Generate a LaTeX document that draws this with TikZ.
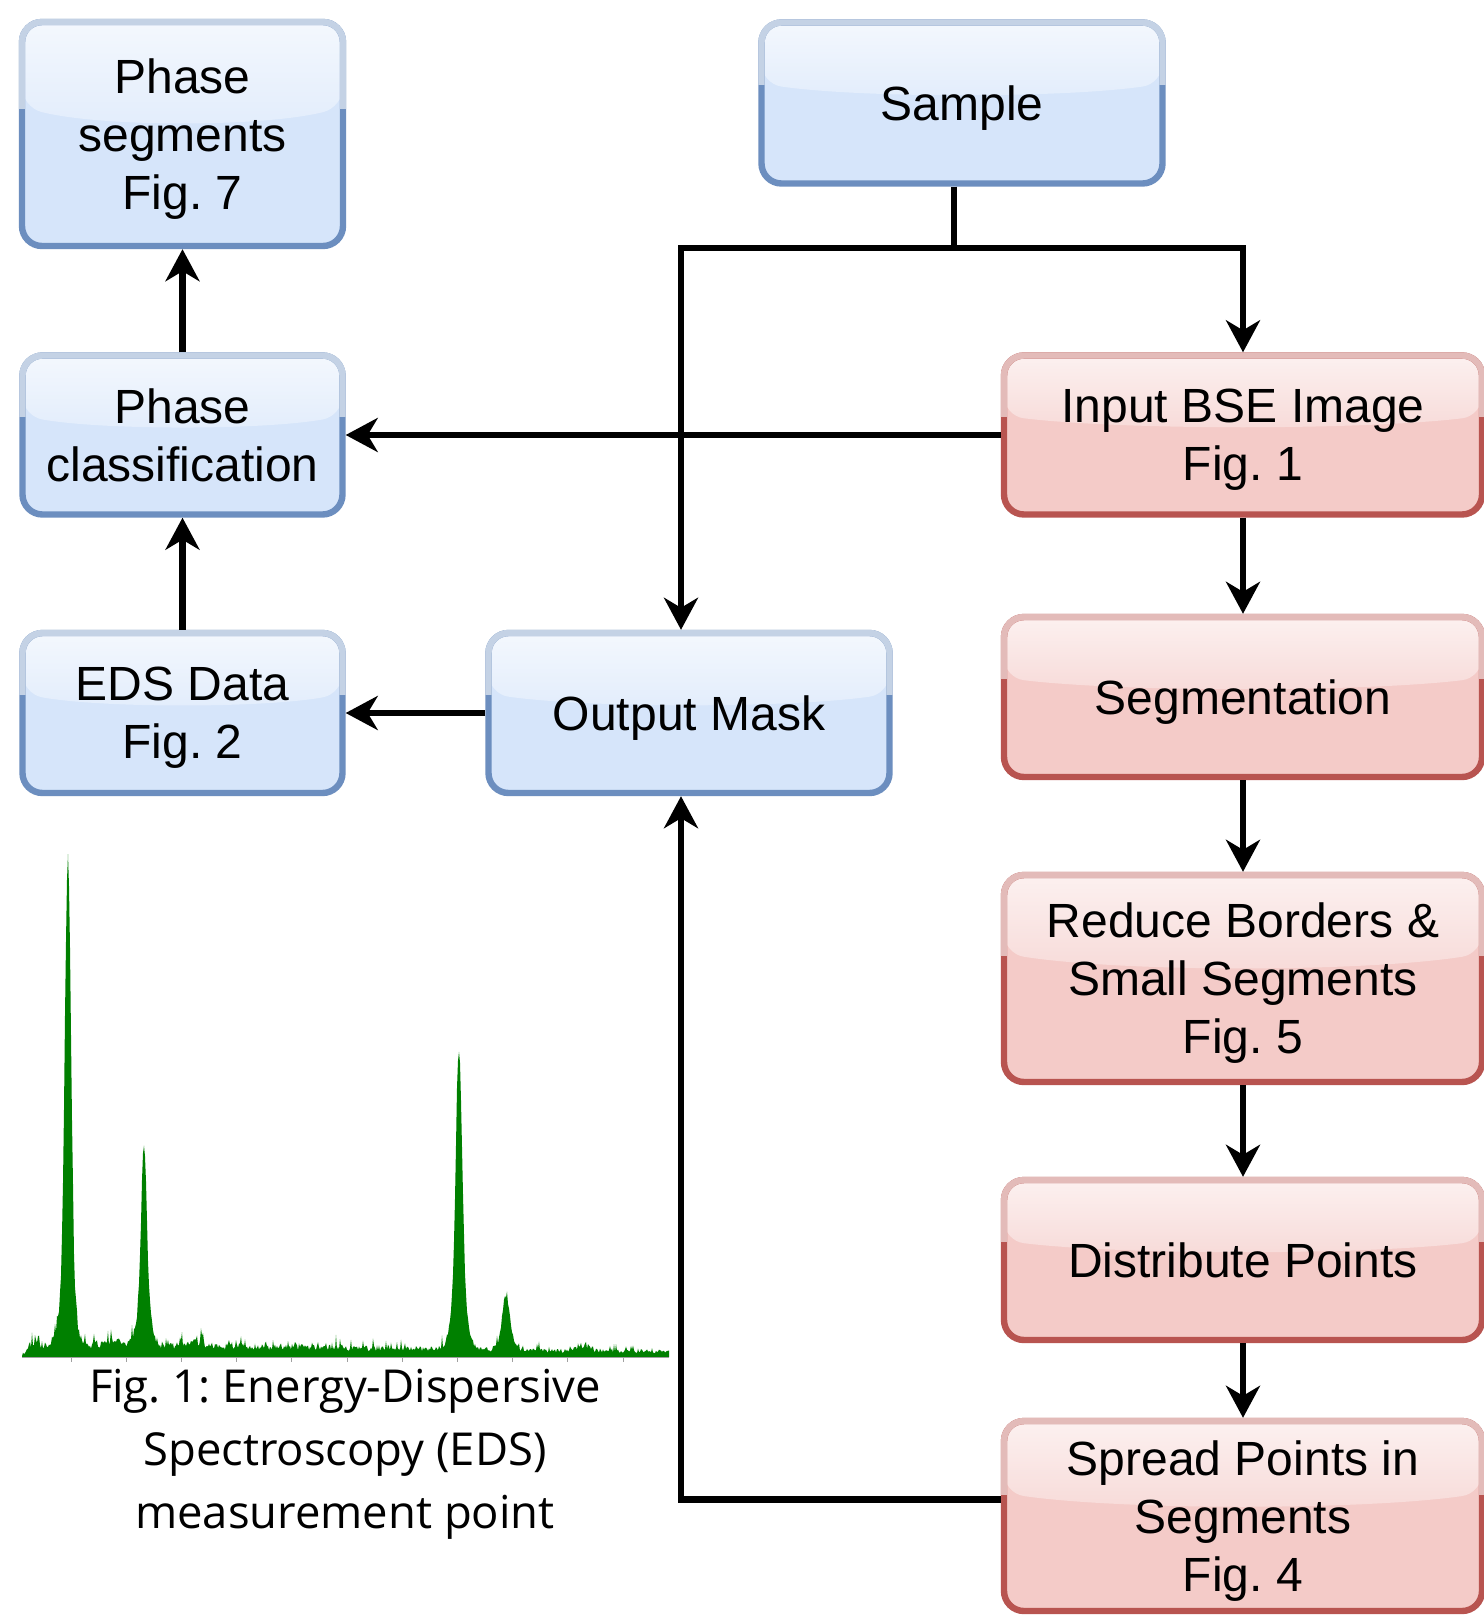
\documentclass[tikz,border=0pt]{standalone}
\usepackage{fontspec}
\setmainfont{Liberation Sans}
\newfontfamily\capfont{Open Sans}
\usetikzlibrary{arrows.meta,calc}
\frenchspacing
\definecolor{bfill}{HTML}{D6E5FA}
\definecolor{bline}{HTML}{6C8EBF}
\definecolor{rfill}{HTML}{F4CBC8}
\definecolor{rline}{HTML}{B85450}
\definecolor{specgreen}{RGB}{0,128,0}
\definecolor{axisgray}{RGB}{160,160,160}
% light overlay on the upper part of a box border (gloss)
\newcommand\glossb[2]{%
  \begin{scope}
    \clip ($(#1.north west)+(-2pt,2pt)$) rectangle ($(#1.north east)!0.39!(#1.south east)+(2pt,0)$);
    \draw[line width=3.2pt, draw=#2, rounded corners=10pt]
      ($(#1.north west)+(1.6pt,-1.6pt)$) rectangle ($(#1.south east)+(-1.6pt,1.6pt)$);
  \end{scope}}
\begin{document}
\begin{tikzpicture}[x=0.5pt,y=-0.5pt,
  basebox/.style={rounded corners=10pt, line width=3.2pt, inner sep=0pt, align=center,
    font=\fontsize{24}{29}\selectfont},
  gloss/.style={path picture={
      \coordinate (gNW) at (path picture bounding box.north west);
      \coordinate (gNE) at (path picture bounding box.north east);
      \coordinate (gSW) at (path picture bounding box.south west);
      \coordinate (gSE) at (path picture bounding box.south east);
      \coordinate (gPR) at ($(gNE)!0.38!(gSE)$);
      \coordinate (gPL) at ($(gNW)!0.38!(gSW)$);
      \coordinate (gQR) at ($(gNE)!0.47!(gSE)$);
      \coordinate (gQL) at ($(gNW)!0.47!(gSW)$);
      \shade[top color=white!72!#1, bottom color=white!30!#1]
        (gNW) -- (gNE) -- (gPR) .. controls ($(gQR)!0.25!(gQL)$) and ($(gQR)!0.75!(gQL)$) .. (gPL) -- cycle;}},
  bluebox/.style={basebox, draw=bline, fill=bfill, gloss=bfill},
  redbox/.style={basebox, draw=rline, fill=rfill, gloss=rfill},
  sz/.style 2 args={minimum width=#1*0.5pt, minimum height=#2*0.5pt},
  conn/.style={line width=3.2pt},
  arr/.style={conn, -{Stealth[length=16pt,width=17pt,inset=5pt]}},
  declare function={
    gp(\x,\c,\s,\h)=\h*exp(-0.5*(min(abs(\x-\c),6*\s)/\s)^2);
    lv(\x)=max(min((\x-21)*1.2, 14-0.013*(\x-22)),0.5);
    spec(\x)=gp(\x,68,3,420)+gp(\x,67,6.5,68)+gp(\x,144,2.6,150)+gp(\x,144,6,52)
      +gp(\x,459,3,230)+gp(\x,459,6.5,70)+gp(\x,506,3.5,40)+gp(\x,506,6,14)
      +gp(\x,116,7,6)+gp(\x,196,9,4)+gp(\x,583,6,5)
      +lv(\x)*(0.6+0.6*rnd+1.1*rnd^8);
  }
]
\path[fill=white, use as bounding box] (0,0) rectangle (1483,1616);

% ---------- boxes ----------
\node[bluebox, sz={321}{224}] (seg7) at (182.5,134) {Phase\\segments\\Fi\smash{g}. 7};
\node[bluebox, sz={401}{161}] (sample) at (962,103) {Sam\smash{p}le};
\node[bluebox, sz={320}{159}] (cls) at (182.5,435) {Phase\\classification};
\node[bluebox, sz={320}{160}] (eds) at (182.5,713) {EDS Data\\Fi\smash{g}. 2};
\node[bluebox, sz={401}{160}] (mask) at (689,713) {Out\smash{p}ut Mask};

\node[redbox, sz={478}{159}] (bse) at (1243,435) {Input BSE Image\\Fi\smash{g}. 1};
\node[redbox, sz={478}{160}] (segm) at (1243,697) {Se\smash{g}mentation};
\node[redbox, sz={478}{207}] (reduce) at (1243,978.5) {Reduce Borders \&\\Small Segments\\Fi\smash{g}. 5};
\node[redbox, sz={478}{160}] (distr) at (1243,1260) {Distribute Points};
\node[redbox, sz={478}{190}] (spread) at (1243,1516) {Spread Points in\hspace{0.278em}\\Segments\\Fi\smash{g}. 4};

\foreach \n in {seg7,sample,cls,eds,mask}{\glossb{\n}{bline!40!white}}
\foreach \n in {bse,segm,reduce,distr,spread}{\glossb{\n}{rline!40!white}}

% ---------- connectors ----------
\coordinate (j) at (954,247.7);
\coordinate (mx) at (681,0);
\coordinate (sp) at (0,1499.5);
\draw[conn] (sample.south -| j) -- (j);
\draw[arr] (j) -| (bse.north);
\draw[arr] (j) -| (mx |- mask.north);
\draw[arr] (bse.west) -- (cls.east);
\draw[arr] (bse.south) -- (segm.north);
\draw[arr] (segm.south) -- (reduce.north);
\draw[arr] (reduce.south) -- (distr.north);
\draw[arr] (distr.south) -- (spread.north);
\draw[arr] (spread.west |- sp) -| (mx |- mask.south);
\draw[arr] (mask.west) -- (eds.east);
\draw[arr] (eds.north) -- (cls.south);
\draw[arr] (cls.north) -- (seg7.south);

% ---------- EDS spectrum ----------
\pgfmathsetseed{7}
\fill[specgreen] (22,1357) \foreach \x in {22,...,669}{ -- (\x,{1357-spec(\x)}) } -- (669,1357) -- cycle;
\draw[axisgray, line width=0.6pt] (22,1357.5) -- (669,1357.5);
\foreach \k in {0,...,10}{\draw[axisgray, line width=0.5pt] ({71+55.2*\k},1357.5) -- ++(0,4);}

\node[font=\capfont\fontsize{22.7}{31.5}\selectfont, align=center] (cap) at (345,1454)
  {Fig. 1: Energy-Dispersive\\Spectroscopy (EDS)\\measurement point};
\end{tikzpicture}
\end{document}
